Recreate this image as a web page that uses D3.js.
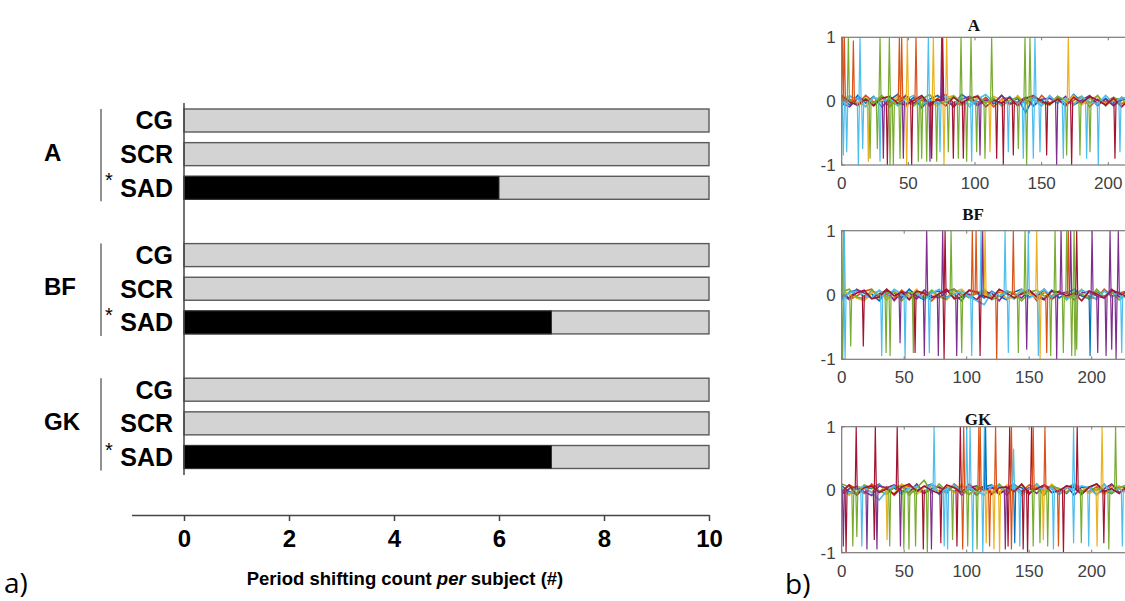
<!DOCTYPE html>
<html><head><meta charset="utf-8">
<script src="https://cdn.jsdelivr.net/npm/d3@7"></script>
<style>html,body{margin:0;padding:0;background:#fff;} svg{display:block;}</style>
</head><body><svg id="c" width="1125" height="601"></svg>
<script>
// ---------- DATA: panel a) ----------
const groups = ["A", "BF", "GK"];
const conditions = ["CG", "SCR", "SAD"];
const starred = ["SAD"];
const subjectsA = [10, 10, 10];
const subjectsBF = [10, 10, 10];
const subjectsGK = [10, 10, 10];
const shiftedA = [0, 0, 6];
const shiftedBF = [0, 0, 7];
const shiftedGK = [0, 0, 7];
const xTicks = [0, 2, 4, 6, 8, 10];

// ---------- DATA: panel b) ----------
const panelTitles = ["A", "BF", "GK"];
const colorOrder = ["#0072BD", "#D95319", "#EDB120", "#7E2F8E", "#77AC30", "#4DBEEE", "#A2142F"];
const plotXTicks = [0, 50, 100, 150, 200];
const plotYTicks = [-1, 0, 1];
const sampleX = [0,6,12,18,24,30,36,42,48,54,60,66,72,78,84,90,96,102,108,114,120,126,132,138,144,150,156,162,168,174,180,186,192,198,204,210,216,222,228];
// baseline noise, stored as integers in units of 0.015
const noiseUnit = 0.015;
const noiseA = [
 [3,-4,6,-2,5,-6,1,7,-3,4,-7,2,6,-1,-4,7,1,-5,4,-3,6,-2,3,-12,4,1,-4,5,-3,7,-1,4,-5,3,-4,1,6,-3,4],
 [-5,2,-3,6,-1,4,-6,2,5,-3,1,-5,3,7,-2,-4,5,-1,3,-6,2,4,-3,1,-5,6,-2,3,-4,1,5,-6,2,-1,4,-3,2,5,-2],
 [1,6,-2,-5,4,2,-3,5,-6,1,4,-2,-5,3,6,-1,-3,4,-2,5,1,-4,6,-3,2,-5,4,1,-2,6,-4,2,5,-3,1,-6,3,-1,2],
 [-2,-6,3,1,-4,5,-1,-3,6,-2,4,-5,1,3,-6,2,5,-4,1,-2,6,-3,-1,4,-5,2,3,-2,5,-4,1,6,-3,2,-5,4,-1,3,-4],
 [4,1,-5,3,-2,6,-4,1,3,-5,2,7,-3,-1,5,-4,2,6,-2,3,-5,1,4,-3,6,-2,-4,5,1,-3,4,-2,6,-5,3,2,-4,1,5],
 [-3,5,2,-6,4,-1,3,-5,2,6,-4,1,-2,5,-3,4,-6,2,7,-1,-3,5,-4,2,1,-5,6,-2,3,-4,5,-1,-3,6,-2,4,1,-5,3],
 [6,-1,-4,2,-5,3,5,-2,-4,1,6,-3,2,-5,4,-2,3,5,-6,1,-2,4,-5,3,6,-1,-3,2,-5,4,-2,5,1,-4,3,-6,2,4,-1]
];
const noiseBF = [
 [-4,3,5,-2,1,-6,4,2,-3,6,-1,-5,3,4,-2,1,-6,5,2,-3,4,-1,-5,3,6,-2,1,-4,5,-3,2,6,-1,-4,3,-2,5,1,-3],
 [2,-5,-1,4,6,-3,1,-4,5,-2,3,1,-6,2,5,-3,4,-1,-5,6,-2,3,1,-4,2,5,-6,3,-1,4,-3,1,5,-2,-4,6,-1,2,4],
 [5,1,-3,-6,2,4,-5,3,1,-2,6,-4,2,-1,-5,3,6,-2,4,1,-3,5,-4,-2,6,1,-3,4,-5,2,3,-1,6,-4,2,-3,5,-2,1],
 [-1,-4,6,2,-3,1,5,-6,3,2,-4,5,-1,-3,4,6,-2,1,-5,3,2,-6,4,1,-3,5,-2,6,-4,1,3,-5,2,4,-1,-3,6,-2,4],
 [3,6,-2,-4,5,-1,2,4,-6,3,1,-3,5,-2,-4,6,1,-3,2,5,-5,-1,4,2,-6,3,5,-1,-2,4,-5,3,1,-4,6,-2,3,-5,1],
 [-6,2,4,-1,-3,5,-2,6,1,-4,3,-5,2,6,-3,1,4,-2,-6,-10,3,-1,2,-4,5,-3,1,6,-2,3,-4,-1,5,2,-5,4,-2,3,-4],
 [1,-3,2,5,-4,-2,6,-1,3,-5,4,2,-3,1,6,-4,-2,5,3,-1,-4,6,2,-3,1,5,-2,-5,4,3,-1,2,-6,4,1,-3,5,2,-2]
];
const noiseGK = [
 [4,-2,-5,3,1,6,-3,2,-4,5,-1,3,6,-5,2,-2,4,1,-6,3,5,-3,-1,4,2,-5,6,-2,3,1,-4,5,-3,2,6,-1,-4,3,2],
 [-3,5,1,-4,6,-2,3,-6,2,4,-1,-3,5,2,-4,6,-1,3,-5,2,1,4,-6,3,-2,5,1,-3,4,-5,2,6,-1,-2,3,-4,5,1,-3],
 [2,-6,4,1,-3,5,-2,-4,6,1,-5,3,2,-1,4,-3,6,-5,1,3,-2,-4,5,2,-6,1,4,-3,6,-1,-2,5,3,-4,1,-5,2,4,-1],
 [-5,1,3,-2,-6,4,2,5,-1,-3,6,-4,1,3,-2,5,-6,2,4,-1,3,-5,1,6,-3,2,-4,5,1,-2,4,-6,3,2,-5,1,6,-3,2],
 [6,3,-4,5,2,-1,-5,3,4,-6,2,10,-3,6,-2,4,-1,-5,3,2,-4,6,-2,1,5,-3,2,-6,4,1,-3,5,-2,3,-1,6,-4,2,5],
 [1,-4,2,3,-3,-11,-1,4,-5,2,3,-2,6,-4,1,5,-3,2,-1,-6,4,3,-2,5,-4,1,6,-3,2,-5,3,-1,4,2,-6,5,-2,1,-3],
 [-2,5,-6,2,4,-3,1,-5,3,6,-2,4,-1,-4,5,2,-3,6,-1,4,-5,2,3,-2,6,-4,1,5,-3,-1,4,2,-5,3,6,-2,1,-4,3]
];
// spikes: [x, peak value, colour index]
const spikesA = [
 [0.75,1,1],[2,1,1],[5,1,4],[8.75,0.95,1],[13.75,1,5],[28.75,1,4],[35.75,1,4],[43.25,1,1],[45,1,1],[49.25,1,2],[55.75,1,1],[65,1,5],[68.75,1,2],[75,1,3],[75.75,1,6],[78.75,1,2],[89.5,1,4],[97,1,4],[112.5,1,4],[137.5,1,4],[141.25,1,4],[145,1,5],[170,1,2],
 [1.25,-0.85,5],[3.75,-0.8,5],[12.5,-1,5],[15.75,-0.75,5],[20,-0.95,2],[21.25,-0.9,4],[26.75,-0.75,4],[28.75,-0.95,5],[31.25,-0.9,3],[34.25,-1,6],[36.25,-1,4],[38.75,-1,4],[43.75,-0.9,4],[46.25,-0.9,3],[48.75,-1,2],[52.5,-1,6],[57.5,-0.95,4],[60,-0.9,4],[63.75,-0.95,4],[66.25,-0.95,3],[67.5,-0.9,6],[71.25,-0.95,4],[73.75,-0.8,5],[76.75,-1,2],[80,-0.8,4],[83.75,-0.9,6],[87.5,-0.9,4],[91.25,-0.9,6],[93.75,-0.95,4],[97.5,-0.95,5],[101.25,-0.8,4],[103.75,-0.85,3],[107.5,-0.9,4],[111.25,-0.8,2],[116.25,-0.9,6],[121.25,-1,6],[125,-0.8,5],[128.75,-0.85,6],[132.5,-0.75,4],[136.25,-0.9,5],[138.75,-1,4],[143.75,-0.9,5],[148.75,-0.8,5],[153.75,-0.85,6],[161.25,-1,3],[166.25,-0.9,5],[168.75,-0.85,4],[172.5,-1,6],[178.75,-0.85,4],[183.75,-0.9,5],[186.25,-0.8,4],[192.5,-1,5],[205,-0.9,6],[208.75,-0.8,5]
];
const spikesBF = [
 [1.3,1,4],[2.1,1,5],[68,1,3],[80.8,1,3],[82.7,1,6],[87.5,1,4],[104.5,1,1],[107.5,1,1],[111.5,1,5],[112.8,1,3],[114.7,1,2],[130.7,1,5],[137.3,1,1],[146.7,1,4],[149.3,1,5],[156,1,2],[170.7,1,4],[175.5,1,3],[180,1,4],[181.3,1,1],[183.2,1,3],[185.9,1,4],[188,1,6],[200.3,1,3],[214.7,1,3],[221.3,1,3],
 [0.8,-1,4],[2.7,-1,5],[7.2,-0.8,4],[17.3,-0.8,6],[32,-0.95,5],[35.5,-0.9,4],[38.7,-0.95,4],[46.7,-0.75,3],[50.7,-1,5],[57.3,-0.9,4],[58.7,-0.9,6],[66.1,-0.95,3],[70.1,-0.9,5],[77.3,-0.95,3],[81.9,-1,6],[92,-0.95,3],[96,-0.9,4],[104,-0.95,5],[110.7,-0.95,6],[124,-1,1],[133.3,-0.9,5],[141.3,-0.9,4],[148,-0.85,3],[157.3,-0.95,5],[158.7,-1,2],[164,-0.9,1],[167.2,-0.95,4],[172,-1,3],[177.3,-0.9,4],[184,-0.95,4],[186.7,-0.95,4],[188,-0.85,4],[198.7,-0.95,0],[204.8,-0.9,3],[211.5,-0.95,3],[216,-0.85,3],[219.5,-1,3],[224,-0.9,5]
];
const spikesGK = [
 [11.6,1,6],[26.9,1,6],[44.4,1,6],[73.9,1,5],[94.9,1,6],[97.6,1,1],[100,1,5],[102.7,1,5],[109.7,1,1],[110.8,1,1],[114.2,1,5],[115.1,1,0],[123.1,1,1],[134.4,1,6],[135.8,1,1],[137.5,0.65,5],[151.9,1,6],[153.2,1,1],[162.6,1,1],[185.5,1,5],[188.4,1,6],[208.3,1,2],[219.1,1,4],
 [1.3,-0.9,3],[3.5,-1,6],[8.9,-0.9,4],[12.1,-0.75,4],[16.1,-0.9,5],[20.2,-0.95,3],[26.1,-0.8,6],[28.2,-0.95,3],[36.3,-0.8,2],[38.4,-0.9,4],[47,-0.9,3],[49.7,-0.95,4],[53.8,-0.95,4],[59.1,-0.9,4],[65.3,-0.95,6],[68.5,-1,4],[71.8,-0.95,3],[79.3,-0.85,6],[82,-0.9,5],[84.7,-0.95,5],[88.7,-0.8,4],[92.2,-0.9,6],[96.8,-0.95,1],[100.8,-0.9,4],[104.8,-1,5],[108.3,-0.95,4],[112.9,-1,5],[115.6,-0.85,2],[118.3,-0.9,1],[121.8,-0.95,2],[126.3,-1,2],[130.9,-0.95,3],[133.1,-0.9,6],[135.8,-0.95,1],[138.4,-0.85,0],[142.5,-0.9,5],[145.2,-0.95,6],[148.7,-1,6],[153.2,-0.9,4],[158.6,-0.85,4],[161.3,-0.8,2],[164.8,-0.9,4],[169.4,-0.95,5],[173.4,-0.9,1],[177.4,-1,6],[185.5,-0.85,5],[191.7,-0.85,4],[197.6,-0.9,5],[204.3,-0.9,2],[209.7,-0.85,6],[213.7,-0.95,4],[224.5,-0.9,5]
];

// ---------- DRAW ----------
const svg = d3.select("#c");
const sans = "'Liberation Sans', Arial, sans-serif";

// ----- panel a) -----
const subjects = [subjectsA, subjectsBF, subjectsGK];
const shifted = [shiftedA, shiftedBF, shiftedGK];
const rowKeys = [];
groups.forEach((g, gi) => {
  conditions.forEach(c => rowKeys.push(g + "|" + c));
  if (gi < groups.length - 1) rowKeys.push("gap" + gi);
});
const rows = [];
groups.forEach((g, gi) => conditions.forEach((c, ci) => rows.push({
  g, c, key: g + "|" + c, total: subjects[gi][ci], value: shifted[gi][ci]
})));

const x = d3.scaleLinear().domain([-1, 10]).range([131.5, 709]);
const y = d3.scaleBand().domain(rowKeys).range([109, 468.5]).paddingInner(0.3165).paddingOuter(0);
const bw = y.bandwidth();

const ga = svg.append("g");
ga.selectAll("rect.tot").data(rows).join("rect").attr("class", "tot")
  .attr("x", x(0)).attr("y", d => y(d.key))
  .attr("width", d => x(d.total) - x(0)).attr("height", bw)
  .attr("fill", "#d3d3d3").attr("stroke", "#5a5a5a").attr("stroke-width", 1.4);
ga.selectAll("rect.val").data(rows.filter(d => d.value > 0)).join("rect").attr("class", "val")
  .attr("x", x(0)).attr("y", d => y(d.key))
  .attr("width", d => x(d.value) - x(0)).attr("height", bw)
  .attr("fill", "#000").attr("stroke", "#333").attr("stroke-width", 1);

ga.append("line").attr("x1", x(0)).attr("x2", x(0)).attr("y1", 103).attr("y2", 475)
  .attr("stroke", "#444").attr("stroke-width", 1.5);

ga.selectAll("text.cond").data(rows).join("text").attr("class", "cond")
  .attr("x", 173).attr("y", d => y(d.key) + bw / 2).attr("dy", "0.36em")
  .attr("text-anchor", "end").attr("font-family", sans).attr("font-weight", "bold")
  .attr("font-size", 25).attr("fill", "#000").text(d => d.c);
ga.selectAll("text.star").data(rows.filter(d => starred.includes(d.c))).join("text").attr("class", "star")
  .attr("x", 109).attr("y", d => y(d.key) + 11).attr("text-anchor", "middle")
  .attr("font-family", sans).attr("font-size", 20).attr("fill", "#000").text("*");
groups.forEach(g => {
  const top = y(g + "|" + conditions[0]);
  const bot = y(g + "|" + conditions[conditions.length - 1]) + bw;
  ga.append("line").attr("x1", 101).attr("x2", 101).attr("y1", top).attr("y2", bot + 2)
    .attr("stroke", "#555").attr("stroke-width", 1.3);
  ga.append("text").attr("x", 44).attr("y", y(g + "|" + conditions[1]) + bw / 2 - 2).attr("dy", "0.36em")
    .attr("font-family", sans).attr("font-weight", "bold").attr("font-size", 24).attr("fill", "#000").text(g);
});

const axB = ga.append("g").attr("transform", "translate(0,515)")
  .call(d3.axisBottom(x).tickValues(xTicks).tickSize(6).tickSizeOuter(0).tickPadding(9));
axB.select(".domain").attr("stroke", "#444").attr("stroke-width", 1.5);
axB.selectAll(".tick line").attr("stroke", "#444").attr("stroke-width", 1.5);
axB.selectAll(".tick text").attr("font-family", sans).attr("font-weight", "bold")
  .attr("font-size", 24).attr("fill", "#000");

const xl = ga.append("text").attr("x", 405).attr("y", 585).attr("text-anchor", "middle")
  .attr("font-family", sans).attr("font-weight", "bold").attr("font-size", 18.5).attr("fill", "#000");
xl.append("tspan").text("Period shifting count ");
xl.append("tspan").attr("font-style", "italic").text("per");
xl.append("tspan").text(" subject (#)");

svg.append("text").attr("x", 4).attr("y", 593).attr("font-family", "'Open Sans', sans-serif")
  .attr("font-size", 28).attr("fill", "#000").text("a)");
svg.append("text").attr("x", 785).attr("y", 594).attr("font-family", "'Open Sans', sans-serif")
  .attr("font-size", 28).attr("fill", "#000").text("b)");

// ----- panel b) -----
const noiseSets = [noiseA, noiseBF, noiseGK];
const spikeSets = [spikesA, spikesBF, spikesGK];
const layout = [
  { left: 841.7, top: 37.3, bottom: 165, k: 1.333, tx: 974, ty: 30.5 },
  { left: 841.7, top: 230.7, bottom: 359.3, k: 1.25, tx: 973, ty: 220 },
  { left: 841.7, top: 426.7, bottom: 552.7, k: 1.25, tx: 978, ty: 424.5 }
];
const defs = svg.append("defs");
panelTitles.forEach((t, pi) => {
  const L = layout[pi];
  const px = d3.scaleLinear().domain([0, 250]).range([L.left, L.left + 250 * L.k]);
  const py = d3.scaleLinear().domain([-1, 1]).range([L.bottom, L.top]);
  const g = svg.append("g");
  const cid = "clip" + pi;
  defs.append("clipPath").attr("id", cid).append("rect")
    .attr("x", L.left).attr("y", L.top).attr("width", 250 * L.k).attr("height", L.bottom - L.top);
  const plot = g.append("g").attr("clip-path", "url(#" + cid + ")");
  const line = d3.line().x((d, i) => px(sampleX[i])).y(d => py(d * noiseUnit));
  plot.selectAll("path.noise").data(noiseSets[pi]).join("path").attr("class", "noise")
    .attr("d", line).attr("fill", "none")
    .attr("stroke", (d, i) => colorOrder[i]).attr("stroke-width", 1.6);
  const sl = d3.line().x(d => px(d[0])).y(d => py(d[1]));
  plot.selectAll("path.spike").data(spikeSets[pi]).join("path").attr("class", "spike")
    .attr("d", s => sl([[s[0] - 0.8, 0], [s[0], s[1]], [s[0] + 0.8, 0]]))
    .attr("fill", "none").attr("stroke", s => colorOrder[s[2]]).attr("stroke-width", 1.2);
  g.append("rect").attr("x", L.left).attr("y", L.top).attr("width", 250 * L.k).attr("height", L.bottom - L.top)
    .attr("fill", "none").attr("stroke", "#7a7a7a").attr("stroke-width", 1.2);
  g.selectAll("line.xt").data(plotXTicks).join("line").attr("class", "xt")
    .attr("x1", d => px(d)).attr("x2", d => px(d)).attr("y1", L.bottom).attr("y2", L.bottom - 3)
    .attr("stroke", "#7a7a7a");
  g.selectAll("line.xt2").data(plotXTicks).join("line").attr("class", "xt2")
    .attr("x1", d => px(d)).attr("x2", d => px(d)).attr("y1", L.top).attr("y2", L.top + 3)
    .attr("stroke", "#7a7a7a");
  g.selectAll("line.yt").data(plotYTicks).join("line").attr("class", "yt")
    .attr("x1", L.left).attr("x2", L.left + 3).attr("y1", d => py(d)).attr("y2", d => py(d))
    .attr("stroke", "#7a7a7a");
  g.selectAll("text.xl").data(plotXTicks).join("text").attr("class", "xl")
    .attr("x", d => px(d)).attr("y", L.bottom + 24).attr("text-anchor", "middle")
    .attr("font-family", sans).attr("font-size", 17).attr("fill", "#404040").text(d => d);
  g.selectAll("text.yl").data(plotYTicks).join("text").attr("class", "yl")
    .attr("x", L.left - 6).attr("y", d => py(d)).attr("dy", "0.35em").attr("text-anchor", "end")
    .attr("font-family", sans).attr("font-size", 17).attr("fill", "#404040").text(d => d);
  g.append("text").attr("x", L.tx).attr("y", L.ty).attr("text-anchor", "middle")
    .attr("font-family", "'Liberation Serif', 'Times New Roman', serif").attr("font-weight", "bold")
    .attr("font-size", 17).attr("fill", "#111").text(t);
});
</script>
</body></html>
